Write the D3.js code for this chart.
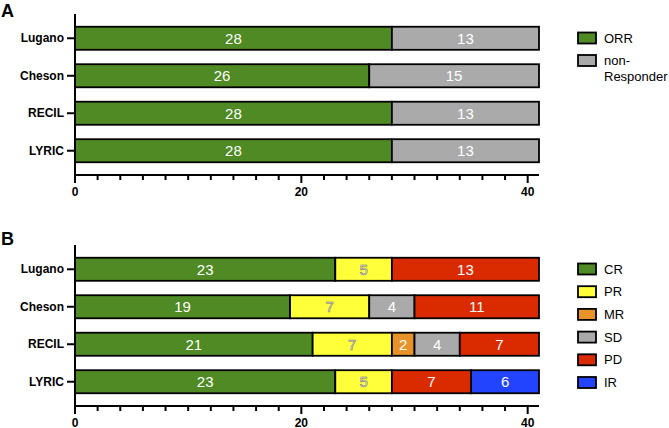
<!DOCTYPE html>
<html>
<head>
<meta charset="utf-8">
<script src="https://cdn.jsdelivr.net/npm/d3@7"></script>
<style>
  body { margin: 0; background: #fff; }
  svg { display: block; font-family: "Liberation Sans", Arial, sans-serif; }
</style>
</head>
<body>
<svg id="chart" width="669" height="428"></svg>
<script>
const categories = ["Lugano", "Cheson", "RECIL", "LYRIC"];

const seriesA = ["ORR", "non-Responder"];
const valuesA_ORR = [28, 26, 28, 28];
const valuesA_non = [13, 15, 13, 13];

const seriesB = ["CR", "PR", "MR", "SD", "PD", "IR"];
const valuesB_CR = [23, 19, 21, 23];
const valuesB_PR = [5, 7, 7, 5];
const valuesB_MR = [0, 0, 2, 0];
const valuesB_SD = [0, 4, 4, 0];
const valuesB_PD = [13, 11, 7, 7];
const valuesB_IR = [0, 0, 0, 6];

const xTickLabels = [0, 20, 40];
const xDomainMax = 41;

const colorsA = {"ORR": "#4f8a24", "non-Responder": "#aaaaaa"};
const colorsB = {"CR": "#4f8a24", "PR": "#ffff3a", "MR": "#e8922a", "SD": "#aaaaaa", "PD": "#da2b00", "IR": "#2244ff"};

const svg = d3.select("#chart");

function buildRows(keys, arrays) {
  return categories.map((c, i) => {
    const row = {cat: c};
    keys.forEach((k, j) => row[k] = arrays[j][i]);
    return row;
  });
}

function panel(opts) {
  const {top, keys, rows, colors, letter, legendItems} = opts;
  const g = svg.append("g").attr("transform", `translate(0,${top})`);
  const x = d3.scaleLinear().domain([0, xDomainMax]).range([75, 539]);
  const y = d3.scaleBand().domain(categories).range([14, 175]).paddingInner(0.385).paddingOuter(0.34);

  const stacked = d3.stack().keys(keys)(rows);

  stacked.forEach(layer => {
    const key = layer.key;
    layer.forEach(d => {
      const v = d[1] - d[0];
      if (v <= 0) return;
      g.append("rect")
        .attr("x", x(d[0]))
        .attr("y", y(d.data.cat))
        .attr("width", x(d[1]) - x(d[0]))
        .attr("height", y.bandwidth())
        .attr("fill", colors[key])
        .attr("stroke", "#000")
        .attr("stroke-width", 1.8);
      g.append("text")
        .attr("x", (x(d[0]) + x(d[1])) / 2)
        .attr("y", y(d.data.cat) + y.bandwidth() / 2)
        .attr("dy", "0.36em")
        .attr("text-anchor", "middle")
        .attr("font-size", 15)
        .attr("fill", "#fff")
        .attr("stroke", (key === "PR") ? "#777" : "none")
        .attr("stroke-width", 0.6)
        .text(v);
    });
  });

  // axes
  const axisY = g.append("g").attr("transform", `translate(75,0)`);
  axisY.append("line").attr("x1", 0).attr("x2", 0).attr("y1", 14).attr("y2", 176)
    .attr("stroke", "#000").attr("stroke-width", 2);
  categories.forEach(c => {
    const cy = y(c) + y.bandwidth() / 2;
    axisY.append("line").attr("x1", -8).attr("x2", 0).attr("y1", cy).attr("y2", cy)
      .attr("stroke", "#000").attr("stroke-width", 2);
    axisY.append("text").attr("x", -11).attr("y", cy).attr("dy", "0.35em")
      .attr("text-anchor", "end").attr("font-size", 12).attr("font-weight", "bold").text(c);
  });

  const axisX = g.append("g").attr("transform", `translate(0,175)`);
  axisX.append("line").attr("x1", 74).attr("x2", x(xDomainMax)).attr("y1", 0).attr("y2", 0)
    .attr("stroke", "#000").attr("stroke-width", 2);
  d3.range(0, 41, 2).forEach(t => {
    const major = xTickLabels.includes(t);
    axisX.append("line").attr("x1", x(t)).attr("x2", x(t)).attr("y1", 0).attr("y2", major ? 8 : 5)
      .attr("stroke", "#000").attr("stroke-width", 2);
  });
  xTickLabels.forEach(t => {
    axisX.append("text").attr("x", x(t)).attr("y", 20.5).attr("text-anchor", "middle")
      .attr("font-size", 12).attr("font-weight", "bold").text(t);
  });

  g.append("text").attr("x", 1).attr("y", opts.letterY).attr("font-size", 18)
    .attr("font-weight", "bold").text(letter);

  // legend
  legendItems.forEach((it, i) => {
    const ly = it.y;
    g.append("rect").attr("x", 578).attr("y", ly - 5.5).attr("width", 18).attr("height", 11)
      .attr("fill", colors[it.key]).attr("stroke", "#000").attr("stroke-width", 1.8);
    it.lines.forEach((ln, j) => {
      g.append("text").attr("x", 604).attr("y", ly + j * 16).attr("dy", "0.35em")
        .attr("font-size", 13).text(ln);
    });
  });
}

panel({
  top: 0,
  keys: seriesA,
  rows: buildRows(seriesA, [valuesA_ORR, valuesA_non]),
  colors: colorsA,
  letter: "A",
  letterY: 17,
  legendItems: [
    {key: "ORR", y: 38, lines: ["ORR"]},
    {key: "non-Responder", y: 60.5, lines: ["non-", "Responder"]}
  ]
});

const legendBY = [38, 60.7, 83.4, 106.1, 128.8, 151.5];
panel({
  top: 231,
  keys: seriesB,
  rows: buildRows(seriesB, [valuesB_CR, valuesB_PR, valuesB_MR, valuesB_SD, valuesB_PD, valuesB_IR]),
  colors: colorsB,
  letter: "B",
  letterY: 14,
  legendItems: seriesB.map((k, i) => ({key: k, y: legendBY[i], lines: [k]}))
});
</script>
</body>
</html>
